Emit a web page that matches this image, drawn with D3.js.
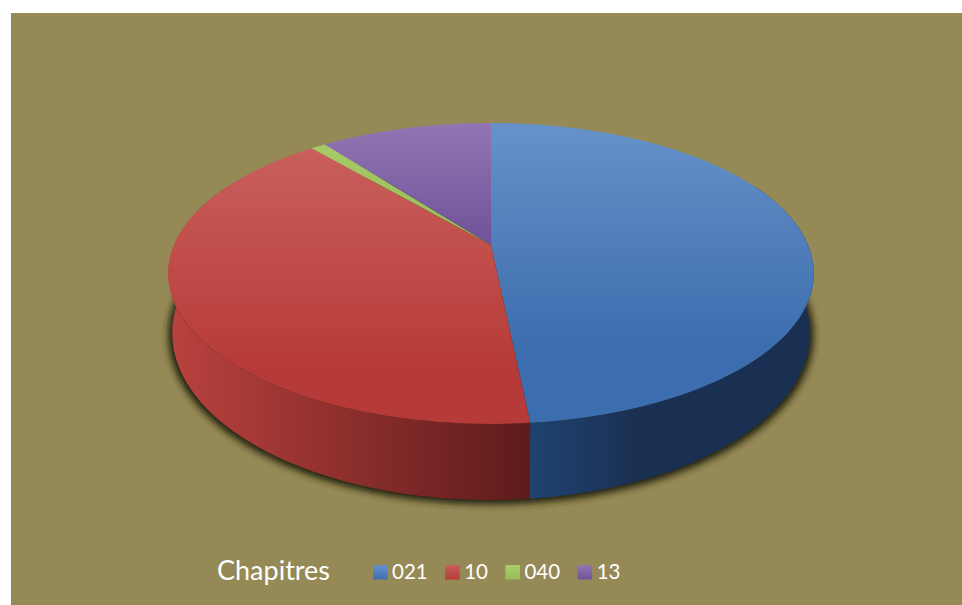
<!DOCTYPE html>
<html><head><meta charset="utf-8">
<script src="https://cdn.jsdelivr.net/npm/d3@7/dist/d3.min.js"></script>
<style>html,body{margin:0;padding:0;background:#fff}svg{display:block}text{font-family:Lato,"Open Sans",sans-serif;fill:#fff}</style>
</head><body><svg id="c" width="962" height="605"></svg>
<script>
const legendTitle = "Chapitres";
const categories = ["021","10","040","13"];
const values = [48.4,40.4,0.9,10.3];
const topLight = ["#6792c9","#c95f5c","#a9cd6c","#9076b2"];
const topDark  = ["#3c6dae","#b63a37","#97bb55","#71519a"];
const sideLeft = ["#1f4270","#b9423e","#8aa84c","#5f4582"];
const sideRight= ["#1a3052","#601c1c","#5f7530","#3f2d58"];

const svg = d3.select("#c");
const cx=491,k=0.189;
const topPlane={cy:245,R:317,B:145.1};
const basePlane={cy:301.4,R:313,B:161};
// perspective projection of a unit-circle point onto a plane of the pie
const proj=(a,pl,r=1)=>{
  const u=r*Math.sin(a),v=r*Math.cos(a),d=1+k*v;
  return [cx+pl.R*u/d, pl.cy-pl.B*v/d];
};
const defs=svg.append("defs");
defs.append("filter").attr("id","blur").attr("x","-10%").attr("y","-10%").attr("width","120%").attr("height","120%")
  .append("feGaussianBlur").attr("stdDeviation",3.5);
function grad(id,c1,c2,attrs){
  const g=defs.append("linearGradient").attr("id",id).attr("gradientUnits","userSpaceOnUse");
  Object.entries(attrs).forEach(([a,b])=>g.attr(a,b));
  g.append("stop").attr("offset",0).attr("stop-color",c1);
  g.append("stop").attr("offset",1).attr("stop-color",c2);
}
const topSpan=[[123,345],[150,370],[123,245],[123,245]];
categories.forEach((c,i)=>{
  grad("top"+i,topLight[i],topDark[i],{x1:0,x2:0,y1:topSpan[i][0],y2:topSpan[i][1]});
  grad("leg"+i,topLight[i],topDark[i],{x1:0,x2:0,y1:565,y2:580});
});
grad("side0",sideLeft[0],sideRight[0],{x1:530,x2:640,y1:0,y2:0});
grad("side1",sideLeft[1],sideRight[1],{x1:172,x2:520,y1:0,y2:0});

svg.append("rect").attr("x",11).attr("y",13).attr("width",951).attr("height",592).attr("fill","#958956");

const pie=d3.pie().sort(null).startAngle(0).endAngle(2*Math.PI)(values);
const line=d3.line();
const samples=(a0,a1)=>d3.range(0,121).map(i=>a0+(a1-a0)*i/120);

// shadow of the base
const shadowPts=samples(0,2*Math.PI).map(a=>{const p=proj(a,basePlane,1.012);return [p[0],p[1]+1.5];});
svg.append("path").attr("d",line(shadowPts)+"Z").attr("fill","#22200f").attr("filter","url(#blur)");

// side wall: front part only, the top face covers the rest
const fa0=Math.PI/2-0.45, fa1=3*Math.PI/2+0.45;
pie.forEach((d,i)=>{
  const a0=Math.max(d.startAngle,fa0),a1=Math.min(d.endAngle,fa1);
  if(a1<=a0) return;
  const s=samples(a0,a1);
  const pts=s.map(a=>proj(a,topPlane)).concat(s.slice().reverse().map(a=>proj(a,basePlane)));
  svg.append("path").attr("d",line(pts)+"Z").attr("fill",`url(#side${i})`);
});
// top face
pie.forEach((d,i)=>{
  const pts=[[cx,topPlane.cy]].concat(samples(d.startAngle,d.endAngle).map(a=>proj(a,topPlane)));
  svg.append("path").attr("d",line(pts)+"Z").attr("fill",`url(#top${i})`);
});

// legend
svg.append("text").attr("x",217).attr("y",580).attr("font-size",27).text(legendTitle);
let lx=373;
categories.forEach((c,i)=>{
  svg.append("rect").attr("x",lx).attr("y",565).attr("width",14.5).attr("height",14.5).attr("fill",`url(#leg${i})`);
  const t=svg.append("text").attr("x",lx+19).attr("y",579).attr("font-size",20.5).text(c);
  lx+=19+t.node().getComputedTextLength()+17.5;
});
</script></body></html>
